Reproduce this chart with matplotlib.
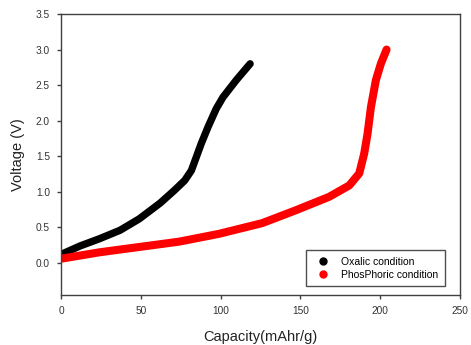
import matplotlib.pyplot as plt
from matplotlib.lines import Line2D
from matplotlib.ticker import FormatStrFormatter

plt.rcParams['font.family'] = ['Liberation Sans', 'DejaVu Sans']

# capacity (mAhr/g) and voltage (V)
oxalic_cap = [0, 12, 24, 37, 49, 62, 71, 77.5, 81.7, 84.8, 87.9, 92.1, 97.3, 101.5, 109.8, 118.5]
oxalic_v = [0.12, 0.24, 0.34, 0.46, 0.62, 0.84, 1.02, 1.16, 1.30, 1.49, 1.68, 1.91, 2.17, 2.33, 2.57, 2.80]

phos_cap = [0, 24, 49, 74, 99, 126, 147, 168, 180.6, 186.9, 190, 192.1, 194.2, 197.3, 200.4, 204]
phos_v = [0.06, 0.15, 0.225, 0.30, 0.41, 0.56, 0.74, 0.93, 1.09, 1.26, 1.54, 1.82, 2.19, 2.57, 2.80, 3.0]

grey = '#404040'

fig = plt.figure(figsize=(4.71, 3.45), dpi=100)
ax = fig.add_axes([0.1295, 0.1449, 0.8471, 0.8145])

ax.plot(oxalic_cap, oxalic_v, color='black', linewidth=5.3, solid_capstyle='round', solid_joinstyle='round')
ax.plot(phos_cap, phos_v, color='red', linewidth=5.8, solid_capstyle='round', solid_joinstyle='round')

ax.set_xlim(0, 250)
ax.set_ylim(-0.45, 3.5)
ax.set_xticks([0, 50, 100, 150, 200, 250])
ax.set_yticks([0.0, 0.5, 1.0, 1.5, 2.0, 2.5, 3.0, 3.5])
ax.yaxis.set_major_formatter(FormatStrFormatter('%.1f'))
ax.tick_params(axis='both', labelsize=7.3, colors=grey, length=3, width=1, direction='out', pad=5)
ax.tick_params(labelcolor='#333333')
for s in ax.spines.values():
    s.set_color(grey)
    s.set_linewidth(1)

ax.set_xlabel('Capacity(mAhr/g)', fontsize=10.5, color='#222222', labelpad=10)
ax.set_ylabel('Voltage (V)', fontsize=10.5, color='#222222', labelpad=8)

handles = [Line2D([], [], marker='o', color='black', linestyle='none', markersize=5),
           Line2D([], [], marker='o', color='red', linestyle='none', markersize=5)]
leg = ax.legend(handles, ['Oxalic condition', 'PhosPhoric condition'], loc='lower right',
                bbox_to_anchor=(0.962, 0.032), fontsize=7.5, frameon=True, fancybox=False,
                edgecolor='#222222', borderpad=0.6, handletextpad=0.8, labelspacing=0.3,
                borderaxespad=0)
leg.get_frame().set_linewidth(1)

fig.savefig('out.png', dpi=100)
